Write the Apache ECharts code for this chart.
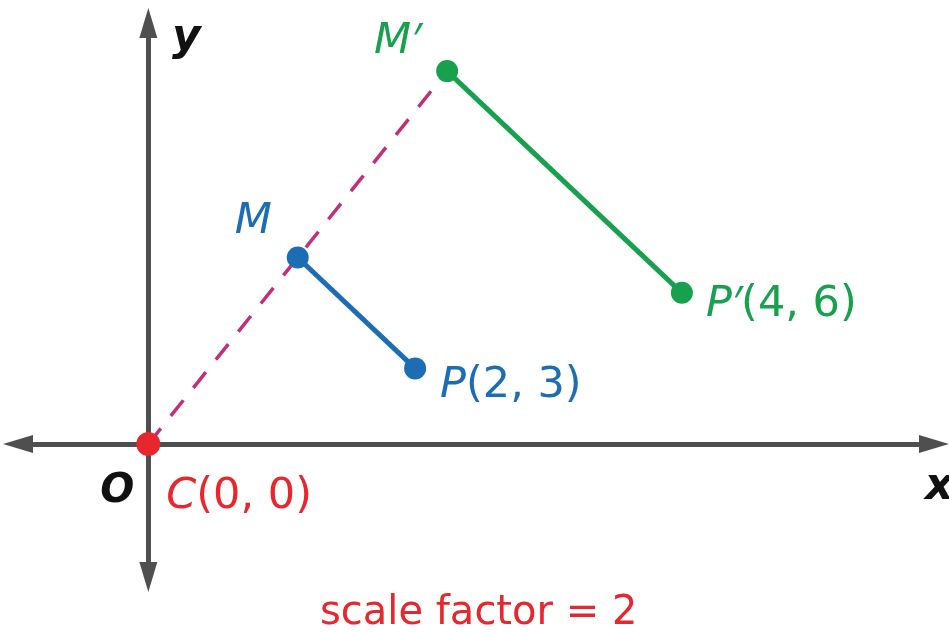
<!DOCTYPE html>
<html>
<head>
<meta charset="utf-8">
<script src="https://cdn.jsdelivr.net/npm/echarts@6/dist/echarts.min.js"></script>
<style>html,body{margin:0;padding:0;background:#fff}#c{width:949px;height:635px}</style>
</head>
<body>
<div id="c"></div>
<script>
// Data
const centerC = [0, 0];
const segmentMP = [[1.12, 7.4], [2, 3]];        // M, P
const segmentMPprime = [[2.24, 14.8], [4, 6]];  // M', P'
const rayCM = [[0, 0], [2.24, 14.8]];
const xRange = [-0.977, 5.89];
const yRange = [-5.28, 16.71];
const labelTexts = {
  C: '{i|C}(0, 0)', M: '{i|M}', P: '{i|P}(2, 3)', Mp: '{i|M}{p|\u2032}', Pp: '{i|P}{p|\u2032}(4, 6)'
};
const scaleText = 'scale factor = 2';

const FONT = '"DejaVu Sans", "Noto Sans", sans-serif';
const BLUE = '#1c6db4', GREEN = '#17a04d', RED = '#e8262d', PINK = '#c0307a', AXIS = '#4f4f4f';

function lab(text, color, dx, dy) {
  return {
    show: true, position: 'inside', align: 'left', verticalAlign: 'middle',
    offset: [dx, dy], formatter: text, color: color, fontFamily: FONT, fontSize: 43,
    rich: {
      i: { fontStyle: 'italic', color: color, fontFamily: FONT, fontSize: 43 },
      p: { color: color, fontFamily: '"Open Sans", sans-serif', fontSize: 43, fontStyle: 'italic' }
    }
  };
}

const chart = echarts.init(document.getElementById('c'), null, { renderer: 'canvas' });
chart.setOption({
  animation: false,
  backgroundColor: '#fff',
  grid: { left: 18, right: 15, top: 23, bottom: 58 },
  xAxis: {
    type: 'value', min: xRange[0], max: xRange[1],
    axisLine: { onZero: true, symbol: ['triangle', 'triangle'], symbolSize: [18, 30],
      lineStyle: { color: AXIS, width: 5 } },
    axisTick: { show: false }, axisLabel: { show: false }, splitLine: { show: false }
  },
  yAxis: {
    type: 'value', min: yRange[0], max: yRange[1],
    axisLine: { onZero: true, symbol: ['triangle', 'triangle'], symbolSize: [18, 30],
      lineStyle: { color: AXIS, width: 5 } },
    axisTick: { show: false }, axisLabel: { show: false }, splitLine: { show: false }
  },
  series: [
    {
      type: 'line', data: rayCM, showSymbol: false, symbol: 'none', z: 2,
      lineStyle: { color: PINK, width: 3.5, type: [20, 16] }
    },
    {
      type: 'line', data: [
        { value: segmentMP[0], label: lab(labelTexts.M, BLUE, -63, -36) },
        { value: segmentMP[1], label: lab(labelTexts.P, BLUE, 25, 17) }
      ],
      symbol: 'circle', symbolSize: 22, showSymbol: true, z: 3,
      itemStyle: { color: BLUE, opacity: 1 }, lineStyle: { color: BLUE, width: 5 }
    },
    {
      type: 'line', data: [
        { value: segmentMPprime[0], label: lab(labelTexts.Mp, GREEN, -73, -29) },
        { value: segmentMPprime[1], label: lab(labelTexts.Pp, GREEN, 24, 12) }
      ],
      symbol: 'circle', symbolSize: 22, showSymbol: true, z: 3,
      itemStyle: { color: GREEN, opacity: 1 }, lineStyle: { color: GREEN, width: 5 }
    },
    {
      type: 'scatter', data: [{ value: centerC, label: lab(labelTexts.C, RED, 18, 53) }],
      symbol: 'circle', symbolSize: 24, z: 4, itemStyle: { color: RED, opacity: 1 }
    },
    {
      type: 'scatter', data: [{ value: centerC }], symbolSize: 0, z: 4,
      itemStyle: { opacity: 1 },
      label: { show: true, position: 'inside', align: 'center', verticalAlign: 'middle',
        offset: [-31, 48], formatter: 'O', color: '#111', fontFamily: FONT,
        fontSize: 40, fontStyle: 'italic', fontWeight: 'bold' }
    }
  ],
  graphic: [
    { type: 'text', left: 172, top: 17, z: 10,
      style: { text: 'y', fill: '#111', font: 'italic bold 44px ' + FONT } },
    { type: 'text', left: 925, top: 466, z: 10,
      style: { text: 'x', fill: '#111', font: 'italic bold 44px ' + FONT } },
    { type: 'text', left: 320, top: 594, z: 10,
      style: { text: scaleText, fill: RED, font: '40px ' + FONT } }
  ]
});
</script>
</body>
</html>
